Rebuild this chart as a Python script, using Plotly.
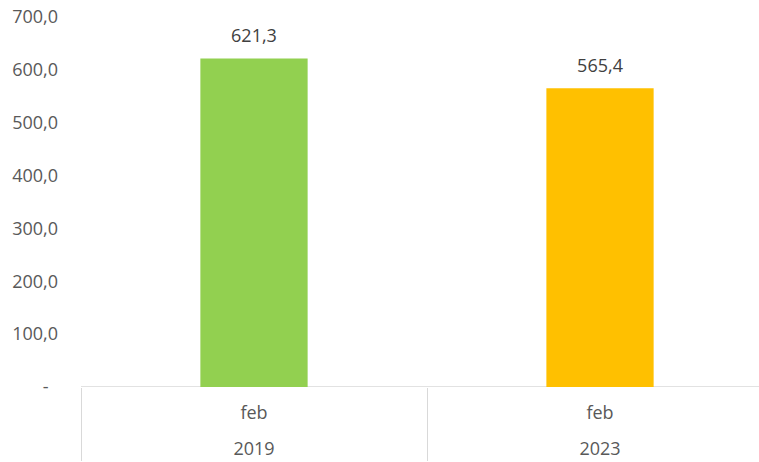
import plotly.graph_objects as go

years = ["2019", "2023"]
months = ["feb", "feb"]
values = [621.3, 565.4]
colors = ["#92D050", "#FFC000"]
ytick_vals = [0, 100, 200, 300, 400, 500, 600, 700]
ytick_text = ["-\u00a0\u00a0", "100,0", "200,0", "300,0", "400,0", "500,0", "600,0", "700,0"]

font_family = "Open Sans, Noto Sans, Liberation Sans, sans-serif"

# inner-level labels get a blank second line so the year row sits lower
month_labels = [m + "<br>\u00a0" for m in months]

fig = go.Figure()
fig.add_trace(
    go.Bar(
        x=[years, month_labels],
        y=values,
        marker=dict(color=colors, line=dict(width=0)),
        hoverinfo="skip",
    )
)
# data labels above bars
fig.add_trace(
    go.Scatter(
        x=[years, month_labels],
        y=values,
        mode="markers+text",
        marker=dict(size=17, color="rgba(0,0,0,0)"),
        text=[f"{v:.1f}".replace(".", ",") for v in values],
        textposition="top center",
        textfont=dict(color="#404040", size=18, family=font_family),
        cliponaxis=False,
        hoverinfo="skip",
    )
)

# category-axis baseline across the whole plot width
fig.add_shape(
    type="line", xref="paper", yref="y",
    x0=0, x1=1.01, y0=0, y1=0,
    line=dict(color="#D9D9D9", width=1.5),
    layer="below",
)

fig.update_layout(
    width=759,
    height=462,
    margin=dict(l=81, r=0, t=17, b=75, autoexpand=False),
    paper_bgcolor="white",
    plot_bgcolor="white",
    separators=",.",
    bargap=0.69,
    showlegend=False,
    hovermode=False,
    font=dict(family=font_family, color="#595959", size=18),
)

fig.update_xaxes(
    type="multicategory",
    range=[-0.5, 1.4595],
    automargin=False,
    showline=False,
    showdividers=True,
    dividercolor="#D9D9D9",
    dividerwidth=1,
    ticks="",
    showgrid=False,
    ticklabelstandoff=13,
    tickfont=dict(size=18, color="#595959"),
)

fig.update_yaxes(
    range=[0, 700],
    automargin=False,
    tickvals=ytick_vals,
    ticktext=ytick_text,
    showgrid=False,
    zeroline=False,
    showline=False,
    ticks="",
    ticklabelstandoff=22,
    ticklabeloverflow="allow",
    tickfont=dict(size=18, color="#595959"),
)

fig.write_html(
    "out.html",
    config={"displayModeBar": False},
    post_script="document.body.style.margin='0';document.body.style.overflow='hidden';",
)
